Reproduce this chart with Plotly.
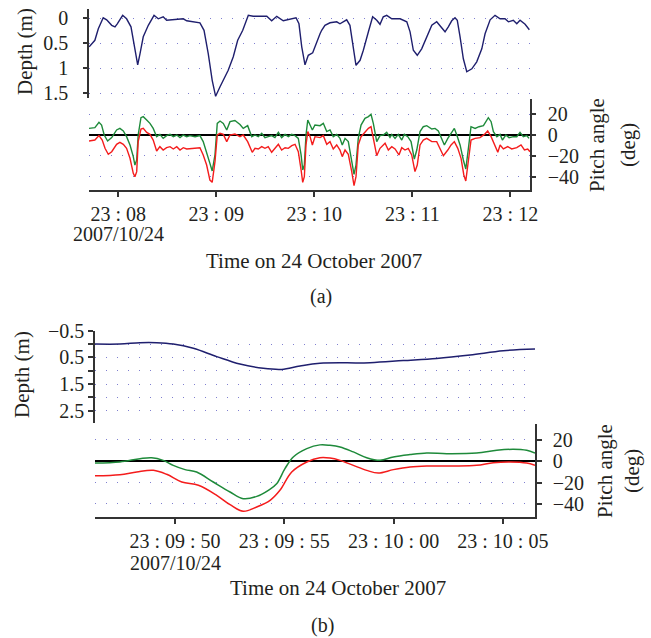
import pandas as pd
import plotly.graph_objects as go

# ---------------- Panel (a) data: seconds after 23:08:00 ----------------
depth_a_t = [-17.8, -14.3, -12.2, -9.2, -7.1, -4.0, -2.0, -0.6, 2.7, 5.1, 7.8, 9.8, 11.9, 13.3,
             15.3, 18.4, 21.9, 24.5, 27.5, 29.6, 39.8, 41.9, 45.9, 50.0, 52.5, 55.1, 57.5, 59.6,
             62.3, 67.3, 70.4, 73.1, 76.2, 79.6, 82.6, 90.9, 93.9, 97.0, 101.0, 107.1, 108.8,
             110.6, 112.3, 114.3, 116.3, 119.0, 122.4, 123.5, 124.5, 126.5, 129.6, 133.7, 135.7,
             139.8, 141.8, 143.5, 145.5, 148.0, 150.0, 153.1, 155.7, 158.2, 160.2, 162.2, 164.3,
             167.4, 172.5, 176.6, 178.6, 180.6, 183.0, 185.7, 188.8, 191.9, 194.9, 197.4, 200.0,
             202.0, 204.1, 206.1, 207.5, 209.2, 211.2, 213.3, 216.4, 219.4, 222.5, 224.5, 227.6,
             230.6, 233.7, 236.7, 238.8, 241.8, 243.9, 245.9, 249.0, 251.6]
depth_a_v = [0.57, 0.44, 0.21, -0.01, 0.03, 0.14, 0.17, 0.11, -0.06, 0.01, 0.17, 0.51, 0.93, 0.71,
             0.37, 0.14, -0.06, 0.01, -0.03, 0.04, 0.01, 0.05, 0.07, 0.09, 0.24, 0.71, 1.24, 1.56,
             1.37, 1.04, 0.77, 0.44, 0.24, -0.06, -0.04, -0.04, 0.05, -0.04, 0.05, 0.01, -0.01,
             0.11, 0.57, 0.93, 0.74, 0.69, 0.37, 0.31, 0.24, 0.14, 0.09, 0.07, 0.11,
             0.03, 0.14, 0.51, 0.94, 0.84, 0.64, 0.27, -0.03, 0.04, 0.12, -0.03, -0.06,
             0.01, 0.01, 0.07, 0.27, 0.64, 0.74, 0.61, 0.37, 0.14, 0.07, 0.17, 0.27,
             0.17, 0.05, -0.01, 0.04, 0.37, 0.81, 1.07, 1.01, 0.87, 0.61, 0.31, 0.03,
             -0.06, 0.01, 0.01, 0.07, 0.04, 0.11, 0.04, 0.12, 0.23]

green_a_t = [-17.9, -14.3, -11.8, -10.2, -8.6, -6.5, -4.0, -1.0, 1.0, 3.1, 5.1, 7.2, 9.2, 10.2,
             11.3, 12.2, 13.9, 15.3, 17.4, 19.4, 21.4, 23.5, 25.5, 27.5, 29.6, 31.7, 33.7, 35.8,
             37.8, 39.8, 41.9, 43.9, 47.0, 50.0, 52.0, 54.1, 56.1, 57.5, 59.2, 60.6, 62.3, 64.3,
             66.4, 68.4, 71.4, 74.5, 76.5, 79.2, 81.7, 83.7, 85.7, 87.8, 89.8, 91.8, 93.9, 95.9,
             98.0, 100.0, 102.1, 104.1, 106.2, 108.2, 110.2, 111.9, 112.9, 113.9, 114.9, 116.0,
             117.4, 118.8, 120.4, 123.5, 125.5, 127.6, 129.6, 131.6, 133.7, 135.7, 137.1, 138.8,
             140.8, 142.9, 144.3, 145.5, 146.9, 148.6, 151.0, 153.1, 154.7, 156.1, 158.2, 160.2,
             162.2, 164.3, 166.3, 167.4, 169.4, 171.4, 173.5, 175.1, 177.2, 179.2, 181.2, 182.7,
             184.7, 186.7, 188.8, 191.9, 193.9, 195.9, 198.0, 199.6, 201.7, 203.7, 205.7, 207.2,
             209.2, 211.2, 212.7, 214.3, 215.9, 218.4, 220.8, 223.5, 225.5, 226.5, 228.2, 229.6,
             231.7, 233.7, 235.1, 237.2, 239.2, 241.8, 243.9, 245.9, 247.9, 250.0, 251.4]
green_a_v = [6.3, 7.0, 12.1, 9.5, 0.0, -5.7, -2.5, 4.8, 6.3, 3.8, -1.6, -9.5, -20.6, -28.6,
             -23.8, 0.0, 16.5, 17.5, 14.3, 11.1, 6.3, -1.6, 0.6, -3.2, -0.6, 0.6, -1.6, 0.0,
             -2.5, 0.0, -1.6, -0.6, -1.6, -0.6, -6.3, -15.9, -27.0, -34.3, -19.0, 11.1, 13.3, 11.1,
             4.8, 12.7, 13.8, 10.0, 6.3, 8.9, -1.6, 0.0, -1.6, 1.6, -2.5, -1.6, -0.6, -2.5,
             2.5, -2.5, 0.6, -1.6, 0.6, -0.6, -3.2, -19.0, -33.3, -28.6, 0.0, 14.3,
             9.5, 4.8, 9.5, 8.9, 11.1, 3.2, 4.8, -1.6, 0.6, -3.2, -9.5, -3.2,
             -6.3, -23.8, -37.5, -28.6, -3.2, 9.5, 15.9, 17.5, 19.7, 11.1, -6.3, -0.6,
             0.0, 2.5, -2.4, 0.6, -3.2, 0.6, -4.8, 0.6, -1.6, -6.3, -22.9, -14.3,
             3.2, 7.9, 8.9, 5.7, 6.3, 3.8, -3.2, -9.5, -3.2, 1.6, 6.3, 0.0,
             -9.5, -23.8, -32.4, -12.7, 7.9, 6.3, 7.9, 8.9, 14.3, 16.5, 12.7, 3.2,
             -1.6, 0.6, -4.8, 0.0, -2.5, -1.6, -1.6, 2.5, -1.6, -0.6, -3.2]

red_a_t = [-17.9, -14.3, -11.8, -9.8, -8.1, -6.1, -4.0, -1.0, 1.0, 3.1, 5.1, 7.2, 9.2, 10.2,
           11.3, 12.2, 13.9, 15.3, 17.4, 19.4, 21.4, 23.5, 25.5, 27.5, 29.6, 31.7, 33.7, 35.8,
           37.8, 39.8, 41.9, 47.0, 50.0, 52.0, 54.1, 56.1, 57.5, 59.2, 60.6, 62.3, 64.3, 66.4,
           68.4, 71.4, 74.5, 76.5, 79.2, 82.0, 83.7, 85.7, 87.8, 89.8, 91.8, 93.9, 95.9, 98.0,
           100.0, 102.1, 104.1, 106.2, 108.2, 110.2, 111.9, 112.9, 113.9, 114.9, 116.0, 117.4,
           118.8, 120.4, 123.5, 125.5, 127.6, 129.6, 131.6, 133.7, 135.7, 137.1, 138.8, 140.8,
           142.9, 144.3, 145.5, 146.9, 148.6, 151.0, 153.1, 154.7, 156.1, 158.2, 160.2, 162.2,
           163.3, 165.3, 167.4, 169.4, 171.8, 173.5, 175.5, 177.5, 179.6, 181.6, 183.0, 184.7,
           186.7, 188.8, 191.9, 194.9, 196.9, 199.0, 201.7, 203.7, 205.7, 207.8, 209.8, 211.5,
           212.7, 214.3, 215.9, 218.4, 221.4, 224.1, 226.1, 228.2, 230.2, 232.3, 233.7, 235.7,
           238.4, 240.8, 243.9, 246.5, 248.6, 250.6, 252.0]
red_a_v = [-5.7, -4.8, -0.6, -4.8, -12.7, -18.4, -15.9, -8.9, -7.0, -8.9, -12.7, -22.2, -36.5, -39.7,
           -34.9, -6.3, 5.7, 6.3, 2.5, 0.6, -4.8, -15.2, -11.1, -14.3, -12.1, -11.1, -13.3, -11.1,
           -14.3, -12.1, -13.3, -12.1, -12.1, -19.0, -28.6, -42.9, -45.1, -25.4, 0.0, 1.6, 0.6, -6.3,
           0.0, 1.0, -1.6, 0.0, -6.3, -16.5, -12.7, -13.3, -11.1, -12.7, -11.1, -16.5, -12.7, -8.9,
           -14.3, -12.1, -12.7, -10.2, -8.9, -15.9, -33.3, -45.1, -39.7, -9.5, 3.2, -1.6,
           -9.5, -1.6, -2.5, -0.6, -8.9, -6.3, -13.3, -9.5, -14.3, -20.6, -14.3, -18.4,
           -34.9, -48.3, -39.7, -9.5, -1.6, 3.2, 6.3, 7.9, -3.2, -19.7, -12.7, -9.5,
           -7.9, -14.3, -11.1, -13.3, -19.0, -12.1, -14.3, -12.7, -19.0, -34.9, -28.6, -9.5,
           -4.8, -3.2, -6.3, -6.3, -12.7, -19.7, -14.3, -9.5, -6.3, -12.7, -22.2, -38.1,
           -43.8, -25.4, -4.8, -3.2, -2.5, 0.6, 3.8, -1.6, -9.5, -16.5, -9.5, -13.3,
           -11.1, -13.3, -12.1, -9.5, -14.3, -13.3, -15.9]

# ---------------- Panel (b) data: seconds after 23:09:50 ----------------
depth_b_t = [-3.66, -2.52, -1.60, -0.84, -0.08, 0.84, 1.91, 2.97, 4.04, 4.88, 5.72, 6.63,
             8.92, 10.44, 11.97, 13.50, 15.02, 16.47]
depth_b_v = [0.0, 0.0, -0.05, -0.05, 0.0, 0.16, 0.47, 0.75, 0.91, 0.95, 0.82, 0.72,
             0.70, 0.62, 0.54, 0.41, 0.25, 0.19]

green_b_t = [-3.66, -2.52, -1.60, -1.07, -0.54, -0.08, 0.46, 0.99, 1.75, 2.52, 3.12, 3.74,
             4.27, 4.65, 5.03, 5.41, 6.03, 6.63, 7.09, 7.55, 8.16, 8.77, 9.38, 9.99, 10.75,
             11.52, 12.43, 13.80, 14.72, 15.48, 16.09, 16.47]
green_b_v = [-1.6, -0.6, 2.5, 3.4, 0.9, -3.8, -7.8, -10.0, -19.4, -28.8, -35.0, -32.9,
             -27.2, -21.0, -6.9, 4.1, 11.9, 15.4, 15.0, 13.5, 8.8, 3.4, 0.9, 4.1, 6.3,
             7.8, 7.2, 7.8, 10.3, 11.3, 10.3, 7.8]

red_b_t = [-3.66, -2.52, -1.75, -0.99, -0.38, 0.31, 1.07, 1.91, 2.52, 3.12, 3.74, 4.35,
           4.80, 5.34, 6.03, 6.63, 7.09, 7.55, 8.16, 8.77, 9.30, 9.99, 10.75, 11.52, 12.73,
           13.80, 14.56, 15.33, 16.09, 16.47]
red_b_v = [-13.5, -12.5, -10.0, -8.5, -12.2, -19.4, -22.5, -31.9, -40.7, -46.9, -42.8, -36.6,
           -27.2, -10.0, -0.6, 3.4, 3.1, 0.9, -3.8, -8.5, -11.0, -7.8, -5.3, -4.4, -4.4,
           -3.8, -1.3, -0.6, -1.6, -3.8]

# ---------------- Ticks / labels ----------------
depth_a_ticks = [0, 0.5, 1, 1.5]
depth_a_ticktext = ["0", "0.5", "1", "1.5"]
depth_b_ticks = [-0.5, 0, 0.5, 1, 1.5, 2, 2.5]
depth_b_ticktext = ["\u22120.5", "", "0.5", "", "1.5", "", "2.5"]
pitch_ticks = [20, 0, -20, -40]
pitch_ticktext = ["20", "0", "\u221220", "\u221240"]
time_a_ticks = ["23:08:00", "23:09:00", "23:10:00", "23:11:00", "23:12:00"]
time_a_ticktext = ["23 : 08", "23 : 09", "23 : 10", "23 : 11", "23 : 12"]
time_b_ticks = ["23:09:50", "23:09:55", "23:10:00", "23:10:05"]
time_b_ticktext = ["23 : 09 : 50", "23 : 09 : 55", "23 : 10 : 00", "23 : 10 : 05"]
date_label = "2007/10/24"
x_title = "Time on 24 October 2007"

DAY = "2007-10-24 "
base_a = pd.Timestamp(DAY + "23:08:00")
base_b = pd.Timestamp(DAY + "23:09:50")


def to_dt(base, secs):
    return [base + pd.Timedelta(seconds=s) for s in secs]


W, H = 651, 638
FONT = "Liberation Serif"
TXT = "#231f20"
AX = "#333333"
GRID = "#7f7fd0"
NAVY = "#1f1f6e"
GREEN = "#1e8a3a"
RED = "#f41c1c"


def px(x):
    return x / W


def py(y):
    return 1 - y / H


fig = go.Figure()
fig.add_trace(go.Scatter(x=to_dt(base_a, depth_a_t), y=depth_a_v, mode="lines",
                         line=dict(color=NAVY, width=1.4), xaxis="x", yaxis="y"))
fig.add_trace(go.Scatter(x=to_dt(base_a, green_a_t), y=green_a_v, mode="lines",
                         line=dict(color=GREEN, width=1.4), xaxis="x2", yaxis="y2"))
fig.add_trace(go.Scatter(x=to_dt(base_a, red_a_t), y=red_a_v, mode="lines",
                         line=dict(color=RED, width=1.4), xaxis="x2", yaxis="y2"))
fig.add_trace(go.Scatter(x=to_dt(base_b, depth_b_t), y=depth_b_v, mode="lines",
                         line=dict(color=NAVY, width=1.5, shape="spline"), xaxis="x3", yaxis="y3"))
fig.add_trace(go.Scatter(x=to_dt(base_b, green_b_t), y=green_b_v, mode="lines",
                         line=dict(color=GREEN, width=1.5, shape="spline"), xaxis="x4", yaxis="y4"))
fig.add_trace(go.Scatter(x=to_dt(base_b, red_b_t), y=red_b_v, mode="lines",
                         line=dict(color=RED, width=1.5, shape="spline"), xaxis="x4", yaxis="y4"))

tickfont = dict(family=FONT, size=20, color=TXT)
grid = dict(showgrid=True, gridcolor=GRID, gridwidth=1, griddash="1px,10px")
common = dict(automargin=False, ticklabeloverflow="allow")

range_a = [DAY + "23:07:42.1", DAY + "23:12:12.0"]
range_b = [DAY + "23:09:46.34", DAY + "23:10:06.47"]
dom_a = [px(89), px(530)]
dom_b = [px(95), px(535)]

fig.update_layout(
    width=W, height=H, margin=dict(l=0, r=0, t=0, b=0, pad=0, autoexpand=False), autosize=False,
    paper_bgcolor="white", plot_bgcolor="white", showlegend=False,
    font=dict(family=FONT, size=20, color=TXT),
    xaxis=dict(domain=dom_a, anchor="y", type="date", range=range_a, showgrid=False,
               showline=False, showticklabels=False, ticks="", zeroline=False, **common),
    yaxis=dict(domain=[py(98.3), py(9.3)], anchor="x", range=[1.6, -0.18],
               tickmode="array", tickvals=depth_a_ticks, ticktext=depth_a_ticktext,
               showline=True, linecolor=AX, linewidth=1.5, ticks="outside", ticklen=4,
               tickcolor=AX, tickwidth=1.5, tickfont=tickfont, zeroline=False,
               ticklabelstandoff=11, **grid, **common),
    xaxis2=dict(domain=dom_a, anchor="y2", type="date", range=range_a, showgrid=False,
                tickmode="array", tickvals=[DAY + t for t in time_a_ticks], ticktext=time_a_ticktext,
                showline=True, linecolor=AX, linewidth=1.5, ticks="outside", ticklen=5,
                tickcolor=AX, tickwidth=1.5, tickfont=tickfont, zeroline=False, **common),
    yaxis2=dict(domain=[py(190), py(99)], anchor="x2", side="right", range=[-52.4, 34.3],
                tickmode="array", tickvals=pitch_ticks, ticktext=pitch_ticktext,
                showline=True, linecolor=AX, linewidth=1.5, ticks="outside", ticklen=4,
                tickcolor=AX, tickwidth=1.5, tickfont=tickfont,
                zeroline=True, zerolinecolor="black", zerolinewidth=1.5,
                ticklabelstandoff=8, **grid, **common),
    xaxis3=dict(domain=dom_b, anchor="y3", type="date", range=range_b, showgrid=False,
                showline=False, showticklabels=False, ticks="", zeroline=False, **common),
    yaxis3=dict(domain=[py(423.3), py(330.7)], anchor="x3", range=[2.97, -0.5],
                tickmode="array", tickvals=depth_b_ticks, ticktext=depth_b_ticktext,
                showline=True, linecolor=AX, linewidth=1.5, ticks="outside", ticklen=5,
                tickcolor=AX, tickwidth=1.5, tickfont=tickfont, zeroline=False,
                ticklabelstandoff=0, **grid, **common),
    xaxis4=dict(domain=dom_b, anchor="y4", type="date", range=range_b, showgrid=False,
                tickmode="array", tickvals=[DAY + t for t in time_b_ticks], ticktext=time_b_ticktext,
                showline=True, linecolor=AX, linewidth=1.5, ticks="outside", ticklen=5,
                tickcolor=AX, tickwidth=1.5, tickfont=tickfont, zeroline=False, **common),
    yaxis4=dict(domain=[py(517.3), py(424.3)], anchor="x4", side="right", range=[-52.5, 34.7],
                tickmode="array", tickvals=pitch_ticks, ticktext=pitch_ticktext,
                showline=True, linecolor=AX, linewidth=1.5, ticks="outside", ticklen=5,
                tickcolor=AX, tickwidth=1.5, tickfont=tickfont,
                zeroline=True, zerolinecolor="black", zerolinewidth=1.5,
                ticklabelstandoff=7, **grid, **common),
)


def ann(text, x, y, angle=0, size=20):
    fig.add_annotation(text=text, x=px(x), y=py(y), xref="paper", yref="paper",
                       showarrow=False, xanchor="center", yanchor="middle",
                       textangle=angle, font=dict(family=FONT, size=size, color=TXT))


# panel (a) labels
ann("Depth (m)", 25, 52, angle=-90, size=21)
ann("Pitch angle", 597, 145, angle=-90, size=21)
ann("(deg)", 628, 145, angle=-90, size=21)
ann(date_label, 118, 234)
ann(x_title, 314, 261, size=21)
ann("(a)", 321, 297)
# panel (b) labels
ann("Depth (m)", 22, 375, angle=-90, size=21)
ann("Pitch angle", 605, 471, angle=-90, size=21)
ann("(deg)", 632, 471, angle=-90, size=21)
ann(date_label, 175, 563)
ann(x_title, 338, 588, size=21)
ann("(b)", 322, 625)

# place the 651x638 figure flush with the window (no default page margin / scrollbars)
page_fix = ("document.documentElement.style.margin='0';document.documentElement.style.overflow='hidden';"
            "document.body.style.margin='0';document.body.style.overflow='hidden';")
fig.write_html("out.html", post_script=page_fix, config={"displayModeBar": False})
